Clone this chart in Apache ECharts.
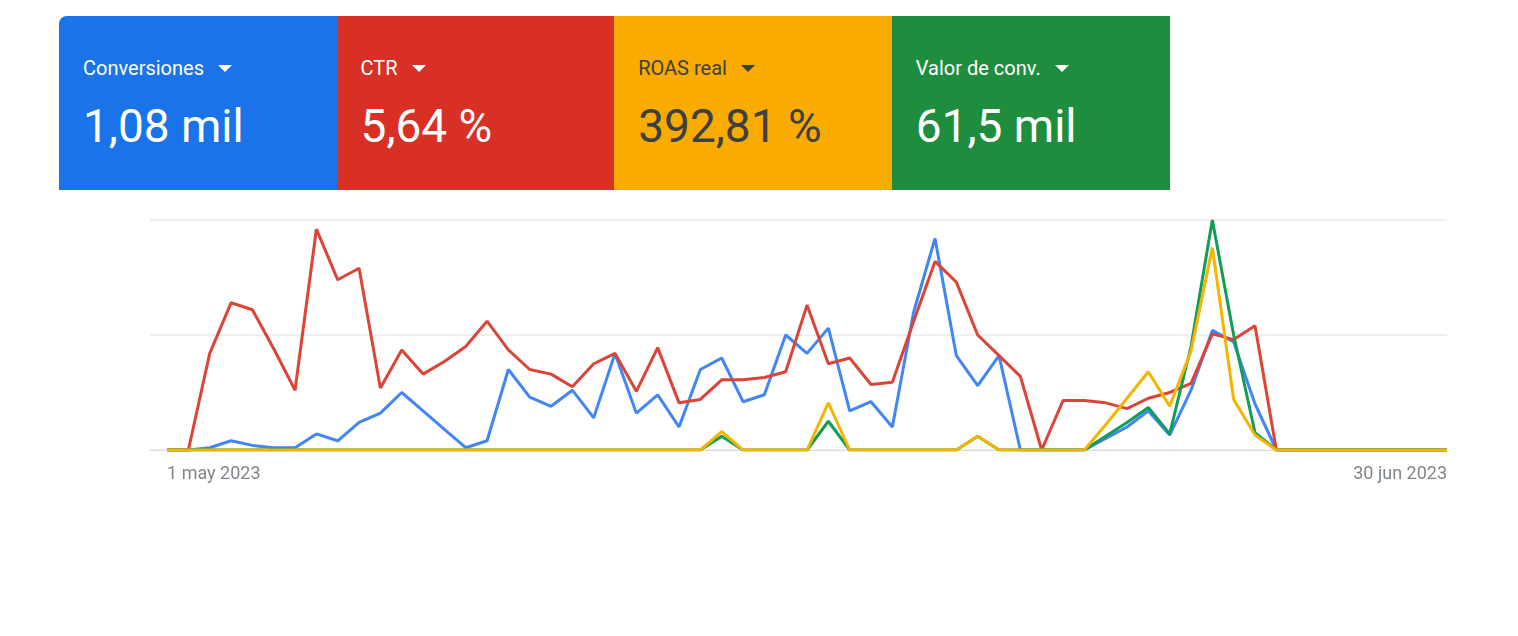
<!DOCTYPE html>
<html>
<head>
<meta charset="utf-8">
<script src="https://cdn.jsdelivr.net/npm/echarts@6/dist/echarts.min.js"></script>
<style>
  html, body { margin: 0; padding: 0; background: #fff; }
  #main { position: absolute; left: 0; top: 0; width: 1518px; height: 636px; }
  .tile { position: absolute; top: 16px; width: 278px; height: 174px; color: #fff;
          font-family: Roboto, 'Noto Sans', sans-serif; }
  .lbl { position: absolute; left: 24px; top: 42px; font-size: 20px; line-height: 20px; white-space: nowrap; }
  .val { position: absolute; left: 24px; top: 87px; font-size: 46px; line-height: 46px; white-space: nowrap; }
  .tri { display: inline-block; width: 0; height: 0; margin-left: 14px; vertical-align: 3px;
         border-left: 7px solid transparent; border-right: 7px solid transparent; border-top: 7px solid currentColor; }
</style>
</head>
<body>
<div id="main"></div>
<div id="tiles"></div>
<script>
// one value per day, 1 may 2023 .. 30 jun 2023
const days = 61;
const dateLabels = ['1 may 2023', '30 jun 2023'];

const conversiones = [0, 0, 1, 4, 2, 1, 1, 7, 4, 12, 16, 25, 17, 9, 1, 4, 35, 23, 19, 26,
  14, 42, 16, 24, 10, 35, 40, 21, 24, 50, 42, 53, 17, 21, 10, 60, 92, 41, 28, 41,
  0, 0, 0, 0, 5, 10, 17, 6.5, 26, 52, 47, 20, 0, 0, 0, 0, 0, 0, 0, 0, 0];
const ctr = [0, 0, 42, 64, 61, 44, 26, 96, 74, 79, 27, 43.5, 33, 38.5, 45, 56, 43.5, 35, 33, 27.5,
  37.5, 42, 25.5, 44.5, 20.5, 22, 30.5, 30.5, 31.5, 34, 63, 37.5, 40, 28.5, 29.5, 56, 82, 73, 50, 41,
  32, 0, 21.5, 21.5, 20.5, 18, 22.5, 25, 29, 50.5, 48, 54, 0, 0, 0, 0, 0, 0, 0, 0, 0];
const roas = [0, 0, 0, 0, 0, 0, 0, 0, 0, 0, 0, 0, 0, 0, 0, 0, 0, 0, 0, 0,
  0, 0, 0, 0, 0, 0, 8, 0, 0, 0, 0, 20.5, 0, 0, 0, 0, 0, 0, 6, 0,
  0, 0, 0, 0, 11, 22.5, 34, 19, 43, 88, 22, 6.5, 0, 0, 0, 0, 0, 0, 0, 0, 0];
const valorConv = [0, 0, 0, 0, 0, 0, 0, 0, 0, 0, 0, 0, 0, 0, 0, 0, 0, 0, 0, 0,
  0, 0, 0, 0, 0, 0, 6, 0, 0, 0, 0, 12.5, 0, 0, 0, 0, 0, 0, 6, 0,
  0, 0, 0, 0, 6, 12, 18.5, 7, 45, 100, 50, 7.5, 0, 0, 0, 0, 0, 0, 0, 0, 0];

const tileNames = ['Conversiones', 'CTR', 'ROAS real', 'Valor de conv.'];
const tileValues = ['1,08 mil', '5,64 %', '392,81 %', '61,5 mil'];
const tileColors = ['#1a73e8', '#d93025', '#f9ab00', '#1e8e3e'];
const tileText = ['#fff', '#fff', '#3c4043', '#fff'];
const lineColors = ['#4285f4', '#db4437', '#0f9d58', '#f4b400'];

// metric tiles
const tiles = document.getElementById('tiles');
tileNames.forEach((name, i) => {
  const t = document.createElement('div');
  t.className = 'tile';
  t.style.left = (59 + i * 277.6) + 'px';
  t.style.background = tileColors[i];
  t.style.color = tileText[i];
  if (i === 0) t.style.borderTopLeftRadius = '8px';
  t.innerHTML = '<div class="lbl">' + name + '<span class="tri"></span></div>' +
    '<div class="val">' + tileValues[i] + '</div>';
  tiles.appendChild(t);
});

const labelFont = '18px Roboto';
const ctx = document.createElement('canvas').getContext('2d');
ctx.font = labelFont;
const wFirst = ctx.measureText(dateLabels[0]).width;
const wLast = ctx.measureText(dateLabels[1]).width;

const pairs = (arr) => arr.map((v, i) => [i, v]);
const labelStyle = { fontSize: 18, fontFamily: 'Roboto', color: '#80868b' };

const chart = echarts.init(document.getElementById('main'));
chart.setOption({
  animation: false,
  grid: { left: 150, right: 71, top: 220, bottom: 186 },
  xAxis: {
    type: 'value',
    min: -0.8,
    max: days - 1,
    axisLine: { show: true, lineStyle: { color: '#dadce0', width: 1 } },
    axisTick: { show: false },
    splitLine: { show: false },
    axisLabel: {
      customValues: [0, days - 1],
      margin: 15,
      fontSize: 18,
      fontFamily: 'Roboto',
      color: '#80868b',
      formatter: (v) => v === 0 ? '{l|' + dateLabels[0] + '}' : '{r|' + dateLabels[1] + '}',
      rich: {
        l: Object.assign({ padding: [0, 0, 0, wFirst] }, labelStyle),
        r: Object.assign({ padding: [0, wLast, 0, 0] }, labelStyle)
      }
    }
  },
  yAxis: {
    type: 'value',
    min: 0,
    max: 100,
    interval: 50,
    axisLabel: { show: false },
    axisLine: { show: false },
    axisTick: { show: false },
    splitLine: { lineStyle: { color: '#e8eaed', width: 1.5 } }
  },
  series: [conversiones, ctr, valorConv, roas].map((arr, i) => ({
    type: 'line',
    data: pairs(arr),
    showSymbol: false,
    lineStyle: { color: lineColors[i], width: 3 },
    itemStyle: { color: lineColors[i] }
  }))
});
</script>
</body>
</html>
